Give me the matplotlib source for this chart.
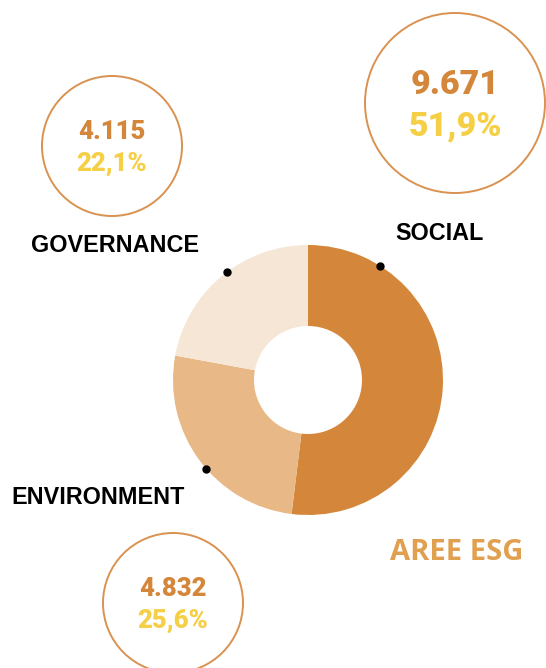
import numpy as np
import matplotlib.pyplot as plt

# Dati
categorie = ["SOCIAL", "ENVIRONMENT", "GOVERNANCE"]
valori = [9671, 4832, 4115]
percentuali = ["51,9%", "25,6%", "22,1%"]
valori_txt = ["9.671", "4.832", "4.115"]
colori = ["#D4873A", "#E8B886", "#F6E6D6"]

W, H = 546, 668
fig = plt.figure(figsize=(W / 100, H / 100), dpi=100)
ax = fig.add_axes([0, 0, 1, 1])

# Ciambella
cx, cy, r = 308, H - 380, 135
ax.pie(valori, colors=colori, startangle=90, counterclock=False,
       center=(cx, cy), radius=r, wedgeprops=dict(width=r * 0.6, linewidth=0))

# Punti sul bordo e etichette
angoli_punti = [58, 221, 127]
pos_label = [(440, 233), (98, 497), (115, 245)]
for ang, (lx, ly), nome in zip(angoli_punti, pos_label, categorie):
    a = np.deg2rad(ang)
    ax.plot(cx + r * np.cos(a), cy + r * np.sin(a), "o", color="black", ms=5)
    ax.text(lx, H - ly, nome, ha="center", va="center", fontsize=16.8,
            fontweight="bold", family="Liberation Sans", color="black")

# Cerchi con valori
cerchi = [(455, 103, 90, 24.5), (173, 603, 70, 18.5), (112, 146, 70, 18.5)]
for (x, y, rc, fs), v, p in zip(cerchi, valori_txt, percentuali):
    ax.add_patch(plt.Circle((x, H - y), rc, fill=False, ec="#D99250", lw=1.4))
    ax.text(x, H - y + rc * 0.2, v, ha="center", va="center", fontsize=fs,
            fontweight="black", family="Roboto", color="#D4873A")
    ax.text(x, H - y - rc * 0.26, p, ha="center", va="center", fontsize=fs,
            fontweight="black", family="Roboto", color="#F5CF45")

ax.text(457, H - 553, "AREE ESG", ha="center", va="center", fontsize=21,
        fontweight="bold", family="Open Sans", color="#E0A050")

ax.set_xlim(0, W)
ax.set_ylim(0, H)
ax.set_aspect("auto")
ax.axis("off")

fig.savefig("out.png", dpi=100)
